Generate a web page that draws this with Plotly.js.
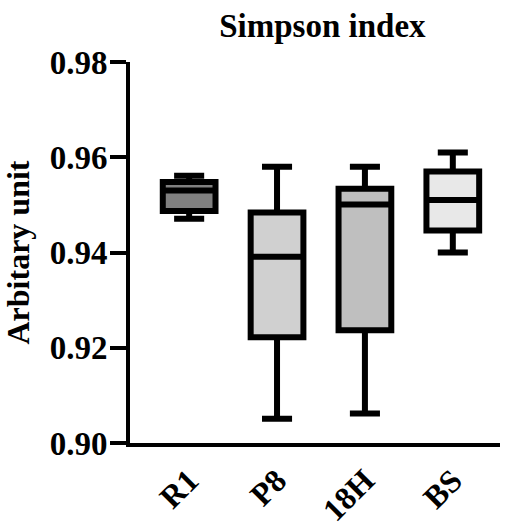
<!DOCTYPE html>
<html>
<head>
<meta charset="utf-8">
<script src="https://cdn.plot.ly/plotly-3.0.1.min.js"></script>
<style>html,body{margin:0;padding:0;background:#fff;}#chart{width:505px;height:529px;}</style>
</head>
<body>
<div id="chart"></div>
<script>
var categories = ['R1', 'P8', '18H', 'BS'];
var lowerWhisker = [0.9471, 0.9051, 0.9062, 0.9400];
var q1Values = [0.9487, 0.9222, 0.9237, 0.9446];
var medianValues = [0.9530, 0.9391, 0.9501, 0.9510];
var q3Values = [0.9548, 0.9484, 0.9534, 0.9570];
var upperWhisker = [0.9561, 0.9580, 0.9580, 0.9610];
var fillColors = ['#808080', '#d0d0d0', '#bfbfbf', '#e8e8e8'];
var yTicks = [0.90, 0.92, 0.94, 0.96, 0.98];
var yTickLabels = ['0.90', '0.92', '0.94', '0.96', '0.98'];

var traces = categories.map(function (c, i) {
  return {
    type: 'box',
    x: [c],
    lowerfence: [lowerWhisker[i]],
    q1: [q1Values[i]],
    median: [medianValues[i]],
    q3: [q3Values[i]],
    upperfence: [upperWhisker[i]],
    fillcolor: fillColors[i],
    line: {color: '#000000', width: 6},
    width: 0.6,
    whiskerwidth: 0.57,
    boxpoints: false,
    hoverinfo: 'skip',
    showlegend: false
  };
});

var serif = "'Liberation Serif', 'Times New Roman', serif";
var bold = function (s) { return '<b>' + s + '</b>'; };
var layout = {
  width: 505,
  height: 529,
  margin: {l: 129.5, r: 5, t: 62, b: 86},
  paper_bgcolor: '#ffffff',
  plot_bgcolor: '#ffffff',
  showlegend: false,
  title: {
    text: bold('Simpson index'),
    font: {family: serif, size: 33, color: '#000'},
    xref: 'paper', x: 0.52, xanchor: 'center',
    yref: 'container', y: 0.951, yanchor: 'middle'
  },
  xaxis: {
    type: 'category',
    categoryorder: 'array',
    categoryarray: categories,
    tickmode: 'array',
    tickvals: categories,
    ticktext: categories.map(bold),
    range: [-0.673, 3.537],
    showline: true, linecolor: '#000', linewidth: 4,
    showgrid: false, zeroline: false,
    ticks: '',
    tickangle: -45,
    ticklabelstandoff: 2,
    tickfont: {family: serif, size: 32, color: '#000'}
  },
  yaxis: {
    range: [0.90, 0.98],
    tickmode: 'array',
    tickvals: yTicks,
    ticktext: yTickLabels.map(bold),
    showline: true, linecolor: '#000', linewidth: 4,
    showgrid: false, zeroline: false,
    ticks: 'outside', ticklen: 16, tickwidth: 4, tickcolor: '#000',
    ticklabelstandoff: -4,
    tickfont: {family: serif, size: 33, color: '#000'},
    title: {
      text: bold('Arbitary unit'),
      font: {family: serif, size: 32, color: '#000'},
      standoff: 11
    }
  }
};

Plotly.newPlot('chart', traces, layout, {displayModeBar: false, staticPlot: true});
</script>
</body>
</html>
